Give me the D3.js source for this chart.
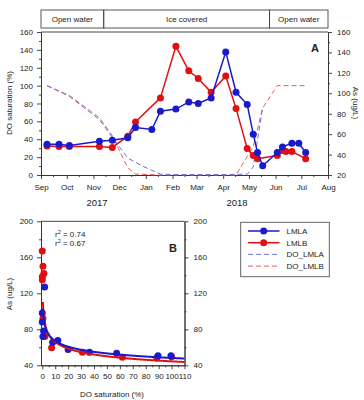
<!DOCTYPE html>
<html><head><meta charset="utf-8">
<script src="https://cdn.jsdelivr.net/npm/d3@7"></script>
<style>
body{margin:0;background:#fff;}
svg text{font-family:"Liberation Sans",Arial,sans-serif;fill:#222;}
</style></head>
<body><svg id="c" width="364" height="400"></svg>
<script>
// ---- Panel A data ----
const lmlaDates = ["2017-09-08","2017-09-22","2017-10-04","2017-11-08","2017-11-23","2017-12-11","2017-12-20","2018-01-08","2018-01-18","2018-02-05","2018-02-20","2018-03-03","2018-03-18","2018-04-04","2018-04-16","2018-04-29","2018-05-06","2018-05-11","2018-05-17","2018-06-03","2018-06-09","2018-06-20","2018-06-28","2018-07-06"];
const lmlaAs = [50,50,49,53,54,56.5,66.5,64.5,82.5,84.5,91.5,90,95.5,140.5,101,89,60,42,29,42,47.5,51,51,42];
const lmlbDates = ["2017-09-08","2017-09-22","2017-10-04","2017-11-08","2017-11-23","2017-12-11","2017-12-20","2018-01-18","2018-02-05","2018-02-20","2018-03-03","2018-03-18","2018-04-04","2018-04-16","2018-04-29","2018-05-06","2018-05-11","2018-06-03","2018-06-09","2018-06-13","2018-06-20","2018-07-06"];
const lmlbAs = [48.5,48,48,48,47,58,72,95.5,146,122,114.5,101,117,85,46,39,36,39,44,43,43,36];
const doLmlaDates = ["2017-09-08","2017-10-04","2017-11-08","2017-11-23","2017-12-11","2017-12-28","2018-01-18","2018-02-05","2018-03-03","2018-04-04","2018-04-29","2018-05-06","2018-05-17"];
const doLmlaVals = [100,88,62,42,19,10,1,0.5,0.5,0.5,1,9,76];
const doLmlbDates = ["2017-09-08","2017-09-22","2017-10-04","2017-11-08","2017-11-23","2017-12-11","2017-12-20","2018-01-18","2018-03-03","2018-04-16","2018-05-06","2018-05-17","2018-06-03","2018-07-06"];
const doLmlbVals = [100,94,89,64,44,8,1,0,0,0,32,75,100,100];
const seasons = [{label:"Open water",from:"2017-09-01",to:"2017-11-13"},{label:"Ice covered",from:"2017-11-13",to:"2018-05-25"},{label:"Open water",from:"2018-05-25",to:"2018-08-01"}];
const doTicksA = [0,20,40,60,80,100,120,140,160];
const asTicksA = [20,40,60,80,100,120,140,160];

// ---- Panel B data ----
const bLmlaDO = [1.8,0,0,1,0.5,8,12,20,36.5,57.5,89.5,99.5];
const bLmlaAs = [127,98,88,78,72,65.5,67.5,57.5,54.5,53.5,50.5,50.5];
const bLmlbDO = [0,0.5,1.3,0,0,0.5,2,7.2,31,62,88.5,100];
const bLmlbAs = [167,150,142,138.5,135,92,72,59.5,54.5,49,48,49.5];
const fitLmla = {a:93.3, b:-0.1435, r2:"0.67"};
const fitLmlb = {a:98, b:-0.172, r2:"0.74"};
const xTicksB = [0,10,20,30,40,50,60,70,80,90,100,110];
const yTicksB = [40,80,120,160,200];

const BLUE="#1a1acc", RED="#e01010", BLUE_D="#7070dd", RED_D="#e06060", AX="#333";
const parse = d3.timeParse("%Y-%m-%d");
const svg = d3.select("#c");

// ================= Panel A =================
const xA = d3.scaleTime().domain([parse("2017-09-01"), parse("2018-08-01")]).range([41,328]);
const yDO = d3.scaleLinear().domain([0,160]).range([175,32]);
const yAs = d3.scaleLinear().domain([20,160]).range([175,32]);

// season header
const hdr = svg.append("g");
seasons.forEach(s=>{
  const x0=xA(parse(s.from)), x1=xA(parse(s.to));
  hdr.append("rect").attr("x",x0).attr("y",10).attr("width",x1-x0).attr("height",18)
    .attr("fill","none").attr("stroke","#444").attr("stroke-width",0.9);
  hdr.append("text").attr("x",(x0+x1)/2).attr("y",22).attr("text-anchor","middle").attr("font-size",8).text(s.label);
});

function styleAxis(g){ g.selectAll("path,line").attr("stroke",AX).attr("stroke-width",0.9); g.selectAll("text").attr("font-size",8).attr("fill","#222").attr("font-family","Liberation Sans, Arial, sans-serif"); }

const gA = svg.append("g");
// frame top
gA.append("line").attr("x1",41).attr("x2",328).attr("y1",32).attr("y2",32).attr("stroke",AX).attr("stroke-width",0.9);
// bottom axis
const months = d3.timeMonth.range(parse("2017-09-01"), parse("2018-08-02"));
const mids = months.slice(0,-1).map(m=>d3.timeDay.offset(m,14));
gA.append("g").attr("transform","translate(0,175)").call(d3.axisBottom(xA).tickValues(months).tickFormat(d3.timeFormat("%b")).tickSize(4).tickPadding(5).tickSizeOuter(0)).call(styleAxis);
gA.append("g").attr("transform","translate(0,175)").call(d3.axisBottom(xA).tickValues(mids).tickFormat("").tickSize(2).tickSizeOuter(0)).call(styleAxis);
// left
gA.append("g").attr("transform","translate(41,0)").call(d3.axisLeft(yDO).tickValues(doTicksA).tickSize(4).tickPadding(4).tickSizeOuter(0)).call(styleAxis);
gA.append("g").attr("transform","translate(41,0)").call(d3.axisLeft(yDO).tickValues(d3.range(10,160,20)).tickFormat("").tickSize(2).tickSizeOuter(0)).call(styleAxis);
// right
gA.append("g").attr("transform","translate(328,0)").call(d3.axisRight(yAs).tickValues(asTicksA).tickSize(4).tickPadding(5).tickSizeOuter(0)).call(styleAxis);
gA.append("g").attr("transform","translate(328,0)").call(d3.axisRight(yAs).tickValues(d3.range(30,160,20)).tickFormat("").tickSize(2).tickSizeOuter(0)).call(styleAxis);

gA.append("text").attr("transform","translate(12,103) rotate(-90)").attr("text-anchor","middle").attr("font-size",8).text("DO saturation (%)");
gA.append("text").attr("transform","translate(353,103) rotate(90)").attr("text-anchor","middle").attr("font-size",8).text("As (ug/L)");
gA.append("text").attr("x",97).attr("y",206).attr("text-anchor","middle").attr("font-size",9.5).text("2017");
gA.append("text").attr("x",237).attr("y",206).attr("text-anchor","middle").attr("font-size",9.5).text("2018");
gA.append("text").attr("x",315).attr("y",52).attr("text-anchor","middle").attr("font-size",11).attr("font-weight","bold").text("A");

function dashed(g, dates, vals, color){
  const pts = dates.map((d,i)=>[xA(parse(d)), yDO(vals[i])]);
  g.append("path").attr("d",d3.line()(pts)).attr("fill","none").attr("stroke",color).attr("stroke-width",1).attr("stroke-dasharray","5,3");
}
dashed(gA, doLmlbDates, doLmlbVals, RED_D);
dashed(gA, doLmlaDates, doLmlaVals, BLUE_D);

function solid(g, dates, vals, color){
  const pts = dates.map((d,i)=>[xA(parse(d)), yAs(vals[i])]);
  g.append("path").attr("d",d3.line()(pts)).attr("fill","none").attr("stroke",color).attr("stroke-width",1.5);
  g.selectAll(null).data(pts).enter().append("circle").attr("cx",p=>p[0]).attr("cy",p=>p[1]).attr("r",3.5).attr("fill",color);
}
solid(gA, lmlbDates, lmlbAs, RED);
solid(gA, lmlaDates, lmlaAs, BLUE);

// ================= Panel B =================
const xB = d3.scaleLinear().domain([-1,110]).range([41,184.5]);
const yB = d3.scaleLinear().domain([40,200]).range([365.3,221.3]);
const gB = svg.append("g");
gB.append("line").attr("x1",41).attr("x2",184.5).attr("y1",221.3).attr("y2",221.3).attr("stroke",AX).attr("stroke-width",0.9);
gB.append("g").attr("transform","translate(0,365.3)").call(d3.axisBottom(xB).tickValues(xTicksB).tickSize(4).tickPadding(4).tickSizeOuter(0)).call(styleAxis);
gB.append("g").attr("transform","translate(0,365.3)").call(d3.axisBottom(xB).tickValues(d3.range(5,110,10)).tickFormat("").tickSize(2).tickSizeOuter(0)).call(styleAxis);
gB.append("g").attr("transform","translate(41,0)").call(d3.axisLeft(yB).tickValues(yTicksB).tickSize(4).tickPadding(4).tickSizeOuter(0)).call(styleAxis);
gB.append("g").attr("transform","translate(41,0)").call(d3.axisLeft(yB).tickValues(d3.range(60,200,40)).tickFormat("").tickSize(2).tickSizeOuter(0)).call(styleAxis);
gB.append("g").attr("transform","translate(184.5,0)").call(d3.axisRight(yB).tickValues(yTicksB).tickSize(4).tickPadding(5).tickSizeOuter(0)).call(styleAxis);
gB.append("g").attr("transform","translate(184.5,0)").call(d3.axisRight(yB).tickValues(d3.range(60,200,40)).tickFormat("").tickSize(2).tickSizeOuter(0)).call(styleAxis);
gB.select("path");

gB.append("text").attr("transform","translate(12,294) rotate(-90)").attr("text-anchor","middle").attr("font-size",8).text("As (ug/L)");
gB.append("text").attr("x",112).attr("y",397).attr("text-anchor","middle").attr("font-size",8).text("DO saturation (%)");
gB.append("text").attr("x",173).attr("y",252).attr("text-anchor","middle").attr("font-size",11).attr("font-weight","bold").text("B");
const r2 = gB.append("text").attr("x",55).attr("y",237).attr("font-size",8).attr("fill",RED);
r2.append("tspan").text("r");
r2.append("tspan").attr("dy",-3).attr("font-size",5.5).text("2");
r2.append("tspan").attr("dy",3).text(" = "+fitLmlb.r2);
const r2b = gB.append("text").attr("x",55).attr("y",246).attr("font-size",8).attr("fill",BLUE);
r2b.append("tspan").text("r");
r2b.append("tspan").attr("dy",-3).attr("font-size",5.5).text("2");
r2b.append("tspan").attr("dy",3).text(" = "+fitLmla.r2);

// points
function pts(dos, as, color){
  gB.selectAll(null).data(dos).enter().append("circle").attr("cx",(d)=>xB(d)).attr("cy",(d,i)=>yB(as[i])).attr("r",3.5).attr("fill",color);
}
pts(bLmlbDO, bLmlbAs, RED);
pts(bLmlaDO, bLmlaAs, BLUE);
// fits
function fit(f, color){
  const xs = d3.range(0.5,110.01,0.25);
  gB.append("path").attr("d",d3.line().x(d=>xB(d)).y(d=>yB(f.a*Math.pow(d,f.b)))(xs)).attr("fill","none").attr("stroke",color).attr("stroke-width",2);
}
fit(fitLmlb, RED);
fit(fitLmla, BLUE);

// legend
const lg = svg.append("g");
lg.append("rect").attr("x",240.7).attr("y",222.3).attr("width",88.6).attr("height",54.4).attr("fill","#fff").attr("stroke","#555").attr("stroke-width",0.9);
const legItems=[{t:"LMLA",c:BLUE,dash:false},{t:"LMLB",c:RED,dash:false},{t:"DO_LMLA",c:BLUE_D,dash:true},{t:"DO_LMLB",c:RED_D,dash:true}];
legItems.forEach((it,i)=>{
  const y=231+i*11.7;
  lg.append("line").attr("x1",248).attr("x2",279.5).attr("y1",y).attr("y2",y).attr("stroke",it.c).attr("stroke-width",it.dash?1:1.5).attr("stroke-dasharray",it.dash?"5,3":null);
  if(!it.dash) lg.append("circle").attr("cx",263.7).attr("cy",y).attr("r",3.5).attr("fill",it.c);
  lg.append("text").attr("x",286.5).attr("y",y+3).attr("font-size",8).text(it.t);
});
</script></body></html>
